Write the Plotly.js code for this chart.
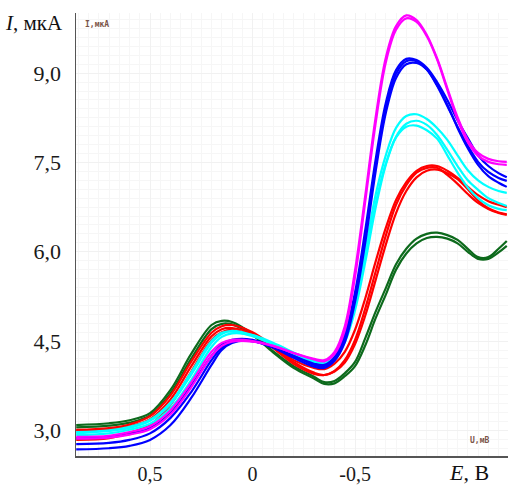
<!DOCTYPE html>
<html>
<head>
<meta charset="utf-8">
<script src="https://cdn.plot.ly/plotly-3.0.1.min.js"></script>
<style>html,body{margin:0;padding:0;background:#fff;}#chart{width:508px;height:485px;}</style>
</head>
<body>
<div id="chart"></div>
<script>
// Potential, V (shared by all curves)
const E_V = [0.86, 0.7, 0.6, 0.5, 0.4, 0.3, 0.2, 0.15, 0.1, 0.0, -0.1, -0.2, -0.3, -0.35, -0.4, -0.45, -0.5, -0.55, -0.6, -0.65, -0.7, -0.75, -0.8, -0.85, -0.9, -0.95, -1.0, -1.05, -1.1, -1.15, -1.2, -1.24];

// Current, µA
const green1 = [3.09, 3.12, 3.17, 3.29, 3.68, 4.28, 4.77, 4.84, 4.82, 4.62, 4.33, 4.08, 3.90, 3.81, 3.83, 3.96, 4.15, 4.55, 4.99, 5.39, 5.79, 6.05, 6.22, 6.30, 6.32, 6.28, 6.20, 6.05, 5.91, 5.91, 6.05, 6.18];
const green2 = [3.05, 3.08, 3.13, 3.25, 3.62, 4.20, 4.70, 4.79, 4.78, 4.60, 4.31, 4.05, 3.87, 3.78, 3.79, 3.91, 4.08, 4.43, 4.88, 5.28, 5.70, 5.97, 6.14, 6.23, 6.25, 6.22, 6.14, 6.00, 5.88, 5.88, 5.99, 6.10];
const red1 = [3.01, 3.04, 3.10, 3.24, 3.59, 4.15, 4.64, 4.75, 4.77, 4.65, 4.42, 4.18, 4.05, 4.03, 4.12, 4.32, 4.69, 5.22, 5.83, 6.40, 6.87, 7.17, 7.36, 7.44, 7.44, 7.36, 7.24, 7.09, 6.95, 6.85, 6.79, 6.75];
const red2 = [2.84, 2.87, 2.96, 3.09, 3.43, 3.98, 4.52, 4.65, 4.69, 4.60, 4.40, 4.15, 3.97, 3.93, 4.00, 4.18, 4.52, 5.05, 5.66, 6.27, 6.79, 7.12, 7.33, 7.41, 7.41, 7.29, 7.14, 6.97, 6.82, 6.72, 6.65, 6.62];
const red3 = [3.00, 3.02, 3.07, 3.19, 3.52, 4.07, 4.58, 4.70, 4.72, 4.62, 4.38, 4.12, 3.95, 3.93, 3.99, 4.14, 4.45, 4.93, 5.52, 6.12, 6.65, 7.02, 7.25, 7.36, 7.38, 7.32, 7.22, 7.05, 6.86, 6.73, 6.66, 6.63];
const cyan1 = [2.95, 2.99, 3.04, 3.16, 3.44, 3.93, 4.47, 4.62, 4.67, 4.60, 4.45, 4.30, 4.17, 4.15, 4.27, 4.60, 5.19, 6.03, 6.95, 7.62, 8.08, 8.28, 8.31, 8.23, 8.08, 7.88, 7.62, 7.37, 7.20, 7.09, 7.02, 6.99];
const cyan2 = [2.92, 2.95, 3.01, 3.11, 3.37, 3.84, 4.40, 4.57, 4.63, 4.60, 4.47, 4.31, 4.15, 4.11, 4.20, 4.48, 5.02, 5.83, 6.73, 7.46, 7.93, 8.15, 8.20, 8.13, 7.96, 7.71, 7.44, 7.20, 7.04, 6.90, 6.82, 6.77];
const cyan3 = [2.97, 3.00, 3.06, 3.18, 3.47, 3.97, 4.50, 4.64, 4.66, 4.58, 4.44, 4.28, 4.14, 4.12, 4.22, 4.52, 5.08, 5.90, 6.80, 7.48, 7.92, 8.10, 8.12, 8.04, 7.90, 7.62, 7.33, 7.08, 6.90, 6.78, 6.72, 6.70];
const blue1 = [2.87, 2.89, 2.94, 3.04, 3.29, 3.75, 4.25, 4.44, 4.52, 4.52, 4.40, 4.25, 4.12, 4.10, 4.23, 4.60, 5.32, 6.37, 7.54, 8.50, 9.05, 9.24, 9.22, 9.09, 8.85, 8.55, 8.21, 7.91, 7.62, 7.44, 7.32, 7.25];
const blue2 = [2.77, 2.79, 2.84, 2.95, 3.21, 3.64, 4.18, 4.39, 4.49, 4.50, 4.39, 4.22, 4.07, 4.05, 4.17, 4.48, 5.16, 6.16, 7.34, 8.33, 8.92, 9.15, 9.17, 9.06, 8.80, 8.47, 8.08, 7.74, 7.46, 7.27, 7.16, 7.09];
const blue3 = [2.68, 2.70, 2.74, 2.84, 3.09, 3.54, 4.10, 4.35, 4.47, 4.50, 4.40, 4.25, 4.10, 4.08, 4.20, 4.55, 5.25, 6.26, 7.44, 8.42, 8.99, 9.20, 9.20, 9.06, 8.79, 8.45, 8.10, 7.78, 7.51, 7.34, 7.24, 7.19];
const magenta1 = [2.89, 2.91, 2.97, 3.07, 3.34, 3.80, 4.32, 4.47, 4.52, 4.50, 4.42, 4.30, 4.20, 4.18, 4.32, 4.75, 5.69, 6.95, 8.25, 9.26, 9.79, 9.97, 9.89, 9.64, 9.25, 8.75, 8.26, 7.88, 7.66, 7.56, 7.52, 7.51];
const magenta2 = [2.86, 2.88, 2.93, 3.02, 3.27, 3.72, 4.25, 4.42, 4.49, 4.49, 4.42, 4.30, 4.19, 4.16, 4.28, 4.68, 5.58, 6.85, 8.15, 9.18, 9.73, 9.92, 9.86, 9.62, 9.23, 8.72, 8.22, 7.84, 7.61, 7.51, 7.47, 7.46];

// Tick labels
const xTickVals = [0.5, 0, -0.5];
const xTickText = ['0,5', '0', '-0,5'];
const yTickVals = [3.0, 4.5, 6.0, 7.5, 9.0];
const yTickText = ['3,0', '4,5', '6,0', '7,5', '9,0'];

const series = [
  [green1, '#0d6a1c'], [green2, '#0d6a1c'],
  [red1, '#ff0000'], [red2, '#ff0000'], [red3, '#ff0000'],
  [cyan1, '#00ffff'], [cyan2, '#00ffff'], [cyan3, '#00ffff'],
  [blue1, '#0000ff'], [blue2, '#0000ff'], [blue3, '#0000ff'],
  [magenta1, '#ff00ff'], [magenta2, '#ff00ff']
];

const traces = series.map(([ys, c]) => ({
  x: E_V, y: ys, type: 'scatter', mode: 'lines',
  line: {color: c, width: 2.2, shape: 'spline', smoothing: 1},
  hoverinfo: 'skip', showlegend: false
}));

const serif = '"Liberation Serif", "Times New Roman", serif';

const layout = {
  width: 508, height: 485,
  margin: {l: 76, r: 0, t: 13, b: 29, pad: 0},
  paper_bgcolor: '#ffffff', plot_bgcolor: '#ffffff',
  showlegend: false,
  xaxis: {
    range: [0.861, -1.246], autorange: false,
    tickmode: 'array', tickvals: xTickVals, ticktext: xTickText,
    tickfont: {family: serif, size: 20, color: '#1a1a1a'},
    ticks: '', ticklen: 0, ticklabelstandoff: -1,
    showline: true, linecolor: '#555', linewidth: 1.5,
    showgrid: true, gridcolor: '#f1f1f1', gridwidth: 1,
    minor: {dtick: 0.05, showgrid: true, gridcolor: '#f6f6f6', gridwidth: 1},
    zeroline: false, automargin: false
  },
  yaxis: {
    range: [2.57, 10.01], autorange: false,
    tickmode: 'array', tickvals: yTickVals, ticktext: yTickText,
    tickfont: {family: serif, size: 22, color: '#1a1a1a'},
    ticks: '', ticklen: 0, ticklabelstandoff: 9,
    showline: true, linecolor: '#555', linewidth: 1.5,
    showgrid: true, gridcolor: '#f1f1f1', gridwidth: 1,
    minor: {dtick: 0.15, showgrid: true, gridcolor: '#f6f6f6', gridwidth: 1},
    zeroline: false, automargin: false
  },
  annotations: [
    {text: '<i>I</i>, мкА', xref: 'paper', yref: 'paper', x: -0.168, y: 0.978,
     xanchor: 'left', yanchor: 'middle', showarrow: false,
     font: {family: serif, size: 21, color: '#111'}},
    {text: '<i>E</i>, В', xref: 'paper', yref: 'paper', x: 0.91, y: -0.037,
     xanchor: 'center', yanchor: 'middle', showarrow: false,
     font: {family: serif, size: 22, color: '#111'}},
    {text: '<b>I,мкА</b>', xref: 'paper', yref: 'paper', x: 0.016, y: 0.973,
     xanchor: 'left', yanchor: 'middle', showarrow: false,
     font: {family: 'DejaVu Sans Mono, monospace', size: 8, color: '#7a5448'}},
    {text: '<b>U,мВ</b>', xref: 'paper', yref: 'paper', x: 0.907, y: 0.036,
     xanchor: 'left', yanchor: 'middle', showarrow: false,
     font: {family: 'DejaVu Sans Mono, monospace', size: 8, color: '#7a5448'}}
  ]
};

Plotly.newPlot('chart', traces, layout, {displayModeBar: false, staticPlot: true});
</script>
</body>
</html>
